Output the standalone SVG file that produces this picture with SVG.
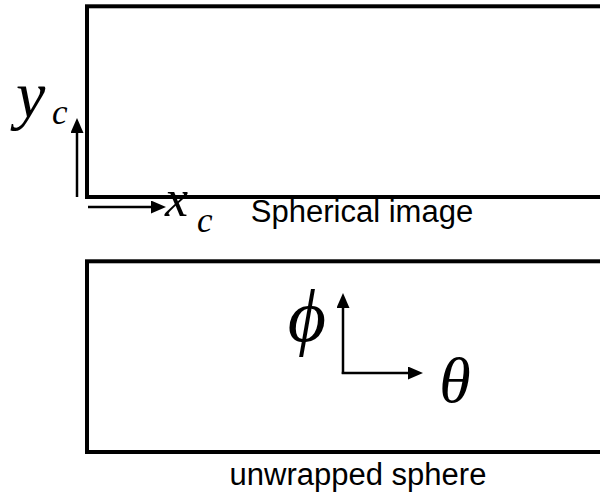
<svg xmlns="http://www.w3.org/2000/svg" width="600" height="496" viewBox="0 0 600 496">
  <style>
    .frame { fill: none; stroke: #000; stroke-width: 4; }
    .axis { stroke: #000; stroke-width: 2.5; fill: none; }
    .math { font-family: "Liberation Serif", "DejaVu Serif", serif; font-style: italic; fill: #000; }
    .label { font-family: "Liberation Sans", Arial, sans-serif; font-size: 31px; fill: #000; text-anchor: middle; }
  </style>
  <defs>
    <marker id="arrow" markerUnits="userSpaceOnUse" markerWidth="16" markerHeight="14" refX="5" refY="6.5" orient="auto">
      <path d="M0,0 L15,6.5 L0,13 Z" fill="#000"/>
    </marker>
  </defs>
  <rect width="600" height="496" fill="#fff"/>

  <g id="spherical-image">
    <rect class="frame" x="87" y="6.3" width="560" height="190.7"/>
    <text class="label" x="362" y="222">Spherical image</text>
  </g>

  <g id="unwrapped-sphere">
    <rect class="frame" x="87" y="261.3" width="560" height="190.7"/>
    <text class="label" x="358" y="485">unwrapped sphere</text>
  </g>

  <g id="axis-labels">
    <text class="math" x="16" y="117" font-size="66">y</text>
    <text class="math" x="52" y="124" font-size="35">c</text>
    <text class="math" x="165" y="216" font-size="52">x</text>
    <text class="math" x="197" y="232" font-size="35">c</text>
    <text class="math" x="307" y="341" font-size="74" text-anchor="middle">ϕ</text>
    <text class="math" x="455" y="402" font-size="64" text-anchor="middle">θ</text>
  </g>

  <g id="connectors">
    <line class="axis" x1="77" y1="197" x2="77" y2="128" marker-end="url(#arrow)"/>
    <line class="axis" x1="88" y1="207" x2="156" y2="207" marker-end="url(#arrow)"/>
    <line class="axis" x1="343" y1="374" x2="343" y2="303" marker-end="url(#arrow)"/>
    <line class="axis" x1="341.75" y1="373" x2="413" y2="373" marker-end="url(#arrow)"/>
  </g>
</svg>
